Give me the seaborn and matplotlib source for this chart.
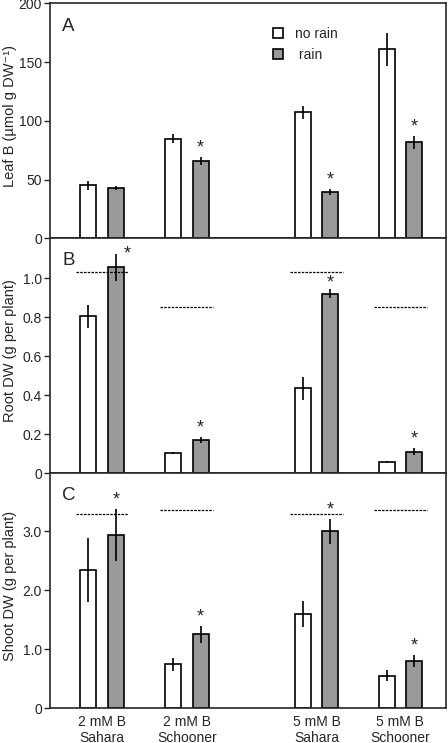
import matplotlib
matplotlib.use("Agg")
import matplotlib.pyplot as plt
import numpy as np
import pandas as pd
import seaborn as sns
from matplotlib.ticker import FuncFormatter

# groups and treatments
groups = ['2 mM B\nSahara', '2 mM B\nSchooner', '5 mM B\nSahara', '5 mM B\nSchooner']
xpos = [0, 1, 2.53, 3.52]
conds = ['no rain', 'rain']

# values (no rain, rain per group)
leaf_norain = [45, 85, 107.5, 161]
leaf_rain = [43, 66, 39.5, 82]
leaf_err_norain = [4, 4, 5.5, 14]
leaf_err_rain = [1.5, 3.5, 2.5, 5.5]

root_norain = [0.805, 0.105, 0.435, 0.058]
root_rain = [1.057, 0.17, 0.922, 0.11]
root_err_norain = [0.06, 0.004, 0.06, 0.006]
root_err_rain = [0.068, 0.015, 0.025, 0.017]

shoot_norain = [2.34, 0.74, 1.59, 0.55]
shoot_rain = [2.94, 1.25, 3.0, 0.80]
shoot_err_norain = [0.54, 0.11, 0.22, 0.09]
shoot_err_rain = [0.44, 0.14, 0.21, 0.1]

# dotted reference levels above each group
root_ref = [1.035, 0.855, 1.035, 0.855]
shoot_ref = [3.29, 3.37, 3.29, 3.37]

# significance stars (on rain bars)
leaf_star = [False, True, True, True]
root_star = [True, True, True, True]
shoot_star = [True, True, True, True]

sns.set_style("ticks")
plt.rcParams['font.family'] = ['Liberation Sans', 'DejaVu Sans']
plt.rcParams['font.size'] = 10
plt.rcParams['axes.linewidth'] = 1.2

fig, axes = plt.subplots(3, 1, figsize=(4.48, 7.43), dpi=100, sharex=True)
fig.subplots_adjust(left=0.112, right=0.996, top=0.9953, bottom=0.0471, hspace=0)

panels = [
    ('A', leaf_norain, leaf_rain, leaf_err_norain, leaf_err_rain, None, leaf_star,
     'Leaf B (µmol g DW⁻¹)', 200, [0, 50, 100, 150, 200]),
    ('B', root_norain, root_rain, root_err_norain, root_err_rain, root_ref, root_star,
     'Root DW (g per plant)', 1.206, [0, 0.2, 0.4, 0.6, 0.8, 1.0]),
    ('C', shoot_norain, shoot_rain, shoot_err_norain, shoot_err_rain, shoot_ref, shoot_star,
     'Shoot DW (g per plant)', 3.99, [0, 1.0, 2.0, 3.0]),
]

def fmt_int(v, pos):
    return '%d' % v

def fmt_dec(v, pos):
    return '0' if v == 0 else '%.1f' % v

for ax, (letter, nr, r, enr, er, ref, star, ylab, ytop, yticks) in zip(axes, panels):
    df = pd.DataFrame({
        'x': xpos * 2,
        'cond': ['no rain'] * 4 + ['rain'] * 4,
        'val': nr + r,
    })
    sns.barplot(data=df, x='x', y='val', hue='cond', hue_order=conds,
                palette={'no rain': 'white', 'rain': '#999999'},
                native_scale=True, width=0.66, gap=0.42, errorbar=None,
                edgecolor='black', linewidth=1.2, ax=ax, legend=(letter == 'A'))

    # error bars at bar centres (patches sorted left to right)
    bars = sorted([p for p in ax.patches if p.get_height() > 0], key=lambda p: p.get_x())
    errs = [e for pair in zip(enr, er) for e in pair]
    vals = [v for pair in zip(nr, r) for v in pair]
    cx = [p.get_x() + p.get_width() / 2 for p in bars]
    ax.errorbar(cx, vals, yerr=errs, fmt='none', ecolor='black', elinewidth=1.2, capsize=0)

    # stars on the rain bars
    for i in range(4):
        if star[i]:
            bi = 2 * i + 1
            dx, dy = 0, 6.5
            if letter == 'B' and i == 0:
                dx, dy = 8, 0
            if letter == 'B' and i == 2:
                dy = 4
            ax.annotate('*', (cx[bi], vals[bi] + errs[bi]), xytext=(dx, dy),
                        textcoords='offset points', ha='center', va='center', fontsize=13)

    if ref is not None:
        for i in range(4):
            ax.hlines(ref[i], xpos[i] - 0.31, xpos[i] + 0.31, colors='black',
                      linestyles=(0, (2, 1)), linewidth=0.9)

    ax.set_ylim(0, ytop)
    ax.set_yticks(yticks)
    ax.yaxis.set_major_formatter(FuncFormatter(fmt_int if letter == 'A' else fmt_dec))
    ax.set_ylabel(ylab, fontsize=10.5)
    ax.yaxis.set_label_coords(-0.083, 0.52)
    ax.set_xlabel('')
    ax.tick_params(axis='y', length=4, width=1.0, labelsize=10, pad=2)
    ax.tick_params(axis='x', length=0, labelsize=10, pad=5)
    for s in ax.spines.values():
        s.set_visible(True)
        s.set_linewidth(1.2)
    ax.text(0.03, 0.94, letter, transform=ax.transAxes, fontsize=13.5, va='top', ha='left')

    if letter == 'A':
        leg = ax.legend(loc='upper left', bbox_to_anchor=(0.53, 0.955), frameon=False,
                        handlelength=0.75, handleheight=0.75, handletextpad=0.9,
                        labelspacing=0.55, fontsize=10)
        leg.texts[1].set_text(' rain')

axes[-1].set_xlim(-0.61, 4.06)
axes[-1].set_xticks(xpos)
axes[-1].set_xticklabels(groups)

fig.savefig('out.png', dpi=100)
